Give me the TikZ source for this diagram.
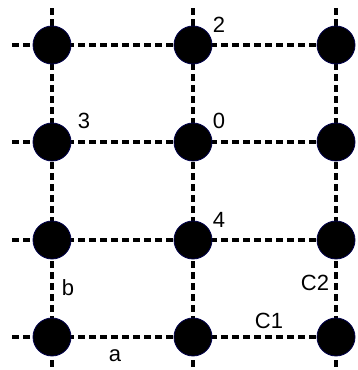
\documentclass[tikz,border=0pt]{standalone}
\usepackage{fontspec}
\setmainfont{Liberation Sans}
\begin{document}
\begin{tikzpicture}[x=1pt,y=-1pt,
  site/.style={circle,fill=black,draw=black!70!blue,line width=0.8pt,minimum size=38pt,inner sep=0pt},
  bond/.style={line width=3.6pt,dash pattern=on 6.5pt off 4.5pt,black},
  lab/.style={inner sep=0pt,font=\fontsize{22}{22}\selectfont}]
\useasboundingbox (0,0) rectangle (358,370);
% free ends of the lattice bonds
\coordinate (L1) at (12,45);  \coordinate (L2) at (12,142);
\coordinate (L3) at (12,240); \coordinate (L4) at (12,337);
\coordinate (T1) at (52,8);   \coordinate (T2) at (193,8);  \coordinate (T3) at (336,8);
\coordinate (B1) at (52,372); \coordinate (B2) at (193,372); \coordinate (B3) at (336,372);
% lattice points
\foreach \c/\x in {1/52,2/193,3/336}{
  \foreach \r/\y in {1/45,2/142,3/240,4/337}{
    \coordinate (n\r\c) at (\x,\y);
  }
}
% lattice bonds
\foreach \r in {1,2,3,4}{
  \draw[bond] (L\r) -- (n\r1) -- (n\r2) -- (n\r3);
}
\foreach \c in {1,2,3}{
  \draw[bond] (T\c) -- (n1\c) -- (n2\c) -- (n3\c) -- (n4\c) -- (B\c);
}
% sites
\foreach \r in {1,2,3,4}{
  \foreach \c in {1,2,3}{
    \node[site] (s\r\c) at (n\r\c) {};
  }
}
% labels
\node[lab] (l2) at (219,25) {2};
\node[lab] (l3) at (84,121) {3};
\node[lab] (l0) at (219,121) {0};
\node[lab] (l4) at (219,220) {4};
\node[lab] (lb) at (68,288) {b};
\node[lab] (la) at (115,356) {a};
\node[lab] (lc1) at (269,321) {C1};
\node[lab] (lc2) at (315,283) {C2};
\end{tikzpicture}
\end{document}
